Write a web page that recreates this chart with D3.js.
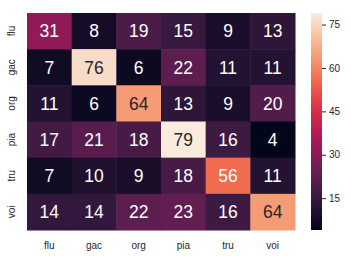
<!DOCTYPE html>
<html>
<head>
<meta charset="utf-8">
<script src="https://cdn.jsdelivr.net/npm/d3@7"></script>
<style>
body { margin: 0; background: #fff; }
text { font-family: Arial, "Liberation Sans", sans-serif; }
</style>
</head>
<body>
<div class="chart"></div>
<script>
var rows = ["flu", "gac", "org", "pia", "tru", "voi"];
var cols = ["flu", "gac", "org", "pia", "tru", "voi"];
var values = [
	[31, 8, 19, 15, 9, 13],
	[7, 76, 6, 22, 11, 11],
	[11, 6, 64, 13, 9, 20],
	[17, 21, 18, 79, 16, 4],
	[7, 10, 9, 18, 56, 11],
	[14, 14, 22, 23, 16, 64]
];
var cbar_ticks = [15, 30, 45, 60, 75];

// rocket colormap stops
var rocket = ["#03051a", "#35193e", "#701f57", "#ad1759", "#e13342", "#f37651", "#f6b48f", "#faebdd"];

var width = 351, height = 257;
var margin = {left: 27, top: 13, right: 56, bottom: 27};

var svg = d3.select(".chart").append("svg")
	.attr("width", width)
	.attr("height", height);

var data = [];
values.forEach(function(r, i){
	r.forEach(function(v, j){
		data.push({row: rows[i], col: cols[j], value: v});
	});
});

var vmin = d3.min(data, function(d){ return d.value; });
var vmax = d3.max(data, function(d){ return d.value; });

var color = d3.scaleLinear()
	.domain(rocket.map(function(c, i){ return vmin + (vmax - vmin) * i / (rocket.length - 1); }))
	.range(rocket)
	.interpolate(d3.interpolateRgb);

var x = d3.scaleBand().domain(cols).range([margin.left, 295]);
var y = d3.scaleBand().domain(rows).range([margin.top, 230]);

var g = svg.append("g");

g.selectAll(".cell")
	.data(data)
	.enter().append("rect")
		.attr("class", "cell")
		.attr("x", function(d){ return x(d.col); })
		.attr("y", function(d){ return y(d.row); })
		.attr("width", x.bandwidth() + 0.5)
		.attr("height", y.bandwidth() + 0.5)
		.style("fill", function(d){ return color(d.value); });

function lum(c){
	var rgb = d3.rgb(c);
	var f = function(v){ v = v / 255; return v <= 0.03928 ? v / 12.92 : Math.pow((v + 0.055) / 1.055, 2.4); };
	return 0.2126 * f(rgb.r) + 0.7152 * f(rgb.g) + 0.0722 * f(rgb.b);
}

g.selectAll(".annot")
	.data(data)
	.enter().append("text")
		.attr("class", "annot")
		.attr("x", function(d){ return x(d.col) + x.bandwidth() / 2; })
		.attr("y", function(d){ return y(d.row) + y.bandwidth() / 2; })
		.attr("dy", "0.36em")
		.attr("text-anchor", "middle")
		.style("font-size", "17.5px")
		.style("fill", function(d){ return lum(color(d.value)) > 0.408 ? "#262626" : "#fff"; })
		.text(function(d){ return d.value; });

// axes labels
svg.selectAll(".xlab")
	.data(cols)
	.enter().append("text")
		.attr("class", "xlab")
		.attr("x", function(d){ return x(d) + x.bandwidth() / 2; })
		.attr("y", 249)
		.attr("text-anchor", "middle")
		.style("font-size", "10px")
		.style("fill", "#262626")
		.text(function(d){ return d; });

svg.selectAll(".ylab")
	.data(rows)
	.enter().append("text")
		.attr("class", "ylab")
		.attr("transform", function(d){ return "translate(15," + (y(d) + y.bandwidth() / 2) + ") rotate(-90)"; })
		.attr("text-anchor", "middle")
		.style("font-size", "10px")
		.style("fill", "#262626")
		.text(function(d){ return d; });

// colorbar
var cb = {x: 311, w: 11, top: 13, bottom: 230};
var cy = d3.scaleLinear().domain([vmin, vmax]).range([cb.bottom, cb.top]);

var defs = svg.append("defs");
var grad = defs.append("linearGradient")
	.attr("id", "cbgrad")
	.attr("x1", 0).attr("y1", 1).attr("x2", 0).attr("y2", 0);
d3.range(0, 1.0001, 0.05).forEach(function(t){
	grad.append("stop")
		.attr("offset", t)
		.attr("stop-color", color(vmin + t * (vmax - vmin)));
});

svg.append("rect")
	.attr("x", cb.x)
	.attr("y", cb.top)
	.attr("width", cb.w)
	.attr("height", cb.bottom - cb.top)
	.style("fill", "url(#cbgrad)");

var caxis = svg.append("g")
	.attr("transform", "translate(" + (cb.x + cb.w) + ",0)")
	.call(d3.axisRight(cy).tickValues(cbar_ticks).tickSize(4).tickPadding(3));
caxis.select(".domain").remove();
caxis.selectAll("line").style("stroke", "#262626");
caxis.selectAll("text")
	.style("font-size", "10px")
	.style("fill", "#262626")
	.style("font-family", "Arial, 'Liberation Sans', sans-serif");
</script>
</body>
</html>
